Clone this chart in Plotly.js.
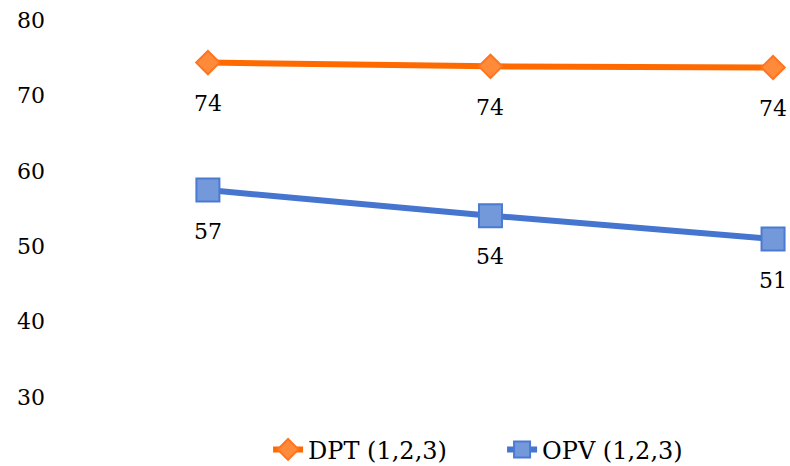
<!DOCTYPE html>
<html>
<head>
<meta charset="utf-8">
<script src="https://cdn.plot.ly/plotly-3.0.1.min.js"></script>
<style>html,body{margin:0;padding:0;background:#fff;}#chart{width:790px;height:466px;}</style>
</head>
<body>
<div id="chart"></div>
<script>
// Data
var categories = [0, 1, 2];
var dptName = 'DPT (1,2,3)';
var opvName = 'OPV (1,2,3)';
var dptValues = [74.35, 73.85, 73.7];
var opvValues = [57.45, 54.05, 50.95];
var yTicks = [30, 40, 50, 60, 70, 80];

var FONT = 'DejaVu Serif, serif';

var traces = [
  {
    x: categories, y: dptValues, name: dptName, type: 'scatter', mode: 'lines+markers',
    line: {color: '#FF6A00', width: 6},
    marker: {symbol: 'diamond', size: 18, color: '#FF8A3A', line: {color: '#FF7420', width: 2}},
    cliponaxis: false
  },
  {
    x: categories, y: opvValues, name: opvName, type: 'scatter', mode: 'lines+markers',
    line: {color: '#4675CF', width: 6},
    marker: {symbol: 'square', size: 23, color: '#7399DA', line: {color: '#4A7AD2', width: 2}},
    cliponaxis: false
  }
];

var annotations = [];
[dptValues, opvValues].forEach(function (vals) {
  vals.forEach(function (v, i) {
    annotations.push({
      x: categories[i], y: v, xref: 'x', yref: 'y',
      text: String(Math.round(v)), showarrow: false,
      yshift: -41, yanchor: 'middle', xanchor: 'center',
      font: {family: FONT, size: 22, color: '#000'}
    });
  });
});

var layout = {
  width: 790, height: 466,
  margin: {l: 46, r: 0, t: 19.6, b: 68.5, autoexpand: false},
  paper_bgcolor: '#fff', plot_bgcolor: '#fff',
  font: {family: FONT, size: 22, color: '#000'},
  showlegend: true,
  legend: {orientation: 'h', x: 0.613, xanchor: 'center', y: -0.14, yanchor: 'middle',
           font: {family: FONT, size: 24, color: '#000'}, itemwidth: 30, entrywidth: 189,
           traceorder: 'normal'},
  xaxis: {range: [-0.573, 2.06], showticklabels: false, showgrid: false, zeroline: false,
          showline: false, ticks: ''},
  yaxis: {range: [30, 80], tickvals: yTicks, showgrid: false, zeroline: false, showline: false,
          ticks: '', tickfont: {family: FONT, size: 22, color: '#000'}},
  annotations: annotations
};

Plotly.newPlot('chart', traces, layout, {displayModeBar: false, staticPlot: true});
</script>
</body>
</html>
